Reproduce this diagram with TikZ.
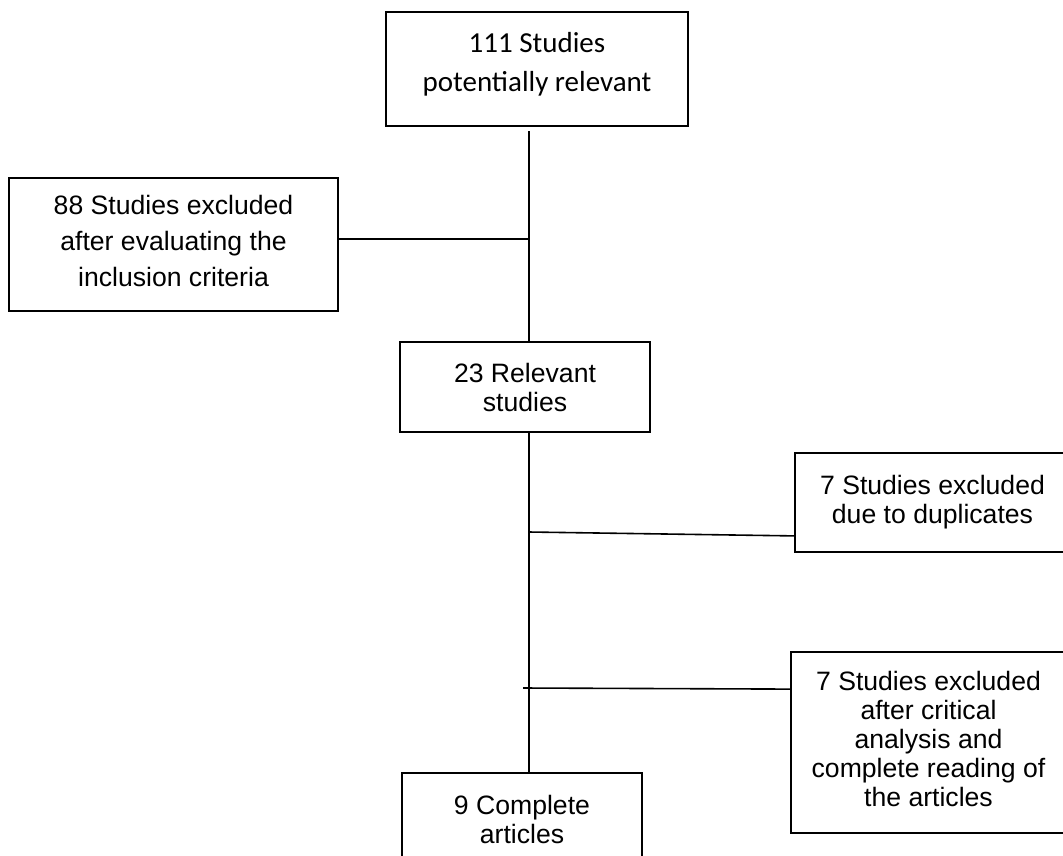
\documentclass[tikz,border=0pt]{standalone}
\usepackage{fontspec}
\setmainfont{Liberation Sans}
\newfontfamily\calibrifont{Carlito}
\usetikzlibrary{calc}

\begin{document}
\begin{tikzpicture}[x=1pt, y=-1pt,
        box/.style={draw, line width=1.8pt, inner sep=0pt, align=center,
            font=\fontsize{26.6}{29}\selectfont},
        link/.style={line width=1.6pt}]
            \useasboundingbox (0,0) rectangle (1063,855);
            \clip (0,0) rectangle (1063,855);

            \node[box, minimum width=302, minimum height=114, text depth=15,
                font=\calibrifont\fontsize{29}{39}\selectfont]
                (potential) at (537,69) {111 Studies\\potentially relevant};
            \node[box, minimum width=329, minimum height=133, text depth=8,
                font=\fontsize{26.6}{36}\selectfont]
                (excluded) at (173.5,244.5) {88 Studies excluded\\after evaluating the\\inclusion criteria};
            \node[box, minimum width=250, minimum height=90]
                (relevant) at (525,387) {23 Relevant\\studies};
            \node[box, minimum width=275, minimum height=99]
                (duplicates) at (932.5,502.5) {7 Studies excluded\\due to duplicates};
            \node[box, minimum width=275, minimum height=181, text depth=7]
                (critical) at (928.5,742.5) {7 Studies excluded\\after critical\\analysis and\\complete reading of\\the articles};
            \node[box, minimum width=240, minimum height=92]
                (complete) at (522,819) {9 Complete\\articles};

            \coordinate (top) at (529,131);
            \coordinate (fork1) at (529,239);
            \coordinate (fork2) at (529,532);
            \coordinate (fork3) at (523,688);

            \draw[link] (top) -- (top |- relevant.north);
            \draw[link] (fork1) -- (fork1 -| excluded.east);
            \draw[link] (top |- relevant.south) -- (top |- complete.north);
            \draw[link] (fork2) -- ([yshift=17]duplicates.south west);
            \draw[link] (fork3) -- ([yshift=-38]critical.north west);
        \end{tikzpicture}
\end{document}
